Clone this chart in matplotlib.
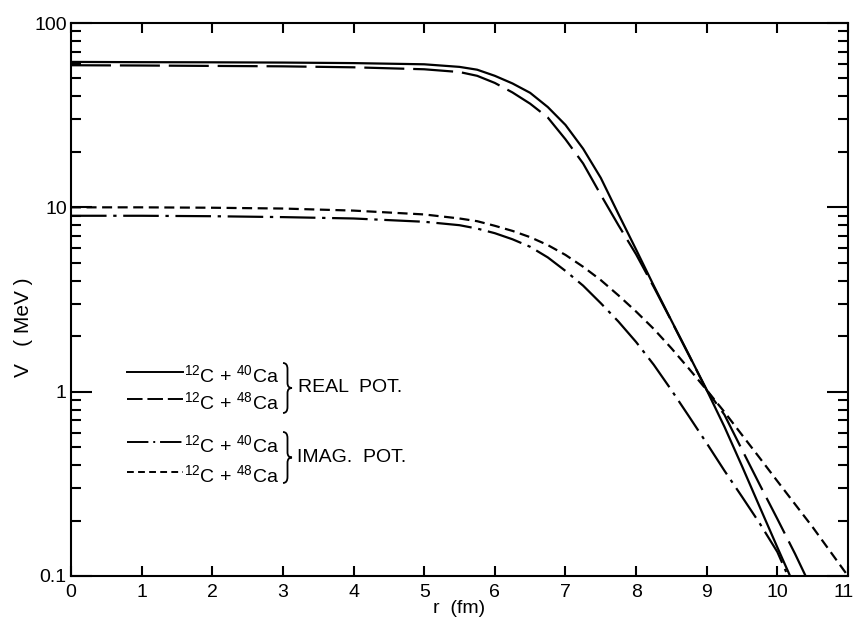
import matplotlib.pyplot as plt
import matplotlib.transforms as mtransforms
from matplotlib.lines import Line2D
from matplotlib.path import Path
from matplotlib.patches import PathPatch
from matplotlib.ticker import LogLocator, NullFormatter

plt.rcParams['font.family'] = ['Liberation Sans', 'DejaVu Sans']
plt.rcParams['mathtext.default'] = 'regular'

# values: r in fm, V in MeV
r_real40 = [0, 1, 2, 3, 4, 5, 5.5, 5.75, 6, 6.25, 6.5, 6.75, 7, 7.25, 7.5, 7.75, 8, 8.25,
            8.5, 8.75, 9, 9.25, 9.5, 9.75, 10, 10.18]
v_real40 = [61.5, 61.3, 61.2, 61.0, 60.6, 59.7, 57.8, 55.8, 51.7, 47.0, 41.8, 35.0, 28.0, 20.8,
            14.45, 9.2, 5.9, 3.76, 2.43, 1.58, 1.02, 0.646, 0.394, 0.237, 0.143, 0.1]

r_real48 = [0, 1, 2, 3, 4, 5, 5.5, 5.75, 6, 6.25, 6.5, 6.75, 7, 7.25, 7.5, 7.75, 8, 8.25,
            8.5, 8.75, 9, 9.25, 9.5, 9.75, 10, 10.25, 10.4]
v_real48 = [59.0, 58.8, 58.5, 58.2, 57.5, 56.1, 54.2, 51.7, 47.3, 42.0, 36.5, 30.7, 23.4, 17.3,
            11.7, 8.0, 5.56, 3.7, 2.42, 1.57, 1.02, 0.75, 0.484, 0.313, 0.204, 0.132, 0.1]

r_imag40 = [0, 1, 2, 3, 4, 5, 5.5, 5.75, 6, 6.25, 6.5, 6.75, 7, 7.25, 7.5, 7.75, 8, 8.25,
            8.5, 8.75, 9, 9.25, 9.5, 9.75, 10, 10.15]
v_imag40 = [9.0, 9.0, 8.95, 8.85, 8.7, 8.35, 8.0, 7.67, 7.24, 6.71, 6.11, 5.35, 4.52, 3.76,
            3.02, 2.40, 1.86, 1.40, 1.02, 0.733, 0.525, 0.373, 0.269, 0.193, 0.135, 0.1]

r_imag48 = [0, 1, 2, 3, 4, 5, 5.5, 5.75, 6, 6.25, 6.5, 6.75, 7, 7.25, 7.5, 7.75, 8, 8.25,
            8.5, 8.75, 9, 9.25, 9.5, 9.75, 10, 10.5, 11]
v_imag48 = [10.0, 10.0, 9.95, 9.85, 9.6, 9.15, 8.7, 8.41, 7.94, 7.45, 6.89, 6.24, 5.52, 4.76,
            4.03, 3.33, 2.72, 2.19, 1.72, 1.33, 1.02, 0.776, 0.582, 0.437, 0.327, 0.184, 0.1]

x_ticks = list(range(12))
y_ticks = [0.1, 1, 10, 100]
y_tick_labels = ['0.1', '1', '10', '100']

W, H = 854, 628


def fx(x):
    return x / W


def fy(y):
    return 1 - y / H


def brace(fig, x0, y0, y1, w):
    # right-facing curly brace, pixel coords (y down)
    xm = x0 + w / 2
    ym = (y0 + y1) / 2
    h = y1 - y0
    pts = [(x0, y0), (xm, y0), (xm, y0 + 0.12 * h),
           (xm, ym - 0.1 * h), (xm, ym), (x0 + w, ym),
           (xm, ym), (xm, ym + 0.1 * h),
           (xm, y1 - 0.12 * h), (xm, y1), (x0, y1)]
    codes = [Path.MOVETO, Path.CURVE3, Path.CURVE3,
             Path.LINETO, Path.CURVE3, Path.CURVE3,
             Path.CURVE3, Path.CURVE3,
             Path.LINETO, Path.CURVE3, Path.CURVE3]
    path = Path([(fx(a), fy(b)) for a, b in pts], codes)
    fig.add_artist(PathPatch(path, fc='none', ec='black', lw=1.3,
                             transform=fig.transFigure))


fig = plt.figure(figsize=(8.54, 6.28), dpi=100)
ax = fig.add_axes([fx(71), fy(576), fx(777), 553 / H])

lw = 1.6
ax.plot(r_real40, v_real40, color='black', lw=lw, ls='-')
ax.plot(r_real48, v_real48, color='black', lw=lw, dashes=(18, 4))
ax.plot(r_imag40, v_imag40, color='black', lw=lw, dashes=(16, 3, 1.5, 3))
ax.plot(r_imag48, v_imag48, color='black', lw=lw, dashes=(4.5, 2.5))

ax.set_yscale('log')
ax.set_xlim(0, 11)
ax.set_ylim(0.1, 100)
ax.set_xticks(x_ticks, [str(t) for t in x_ticks])
ax.set_yticks(y_ticks, y_tick_labels)
ax.yaxis.set_minor_locator(LogLocator(base=10, subs=range(2, 10)))
ax.yaxis.set_minor_formatter(NullFormatter())
ax.tick_params(axis='both', which='both', direction='in', top=True, right=True, width=1.5)
ax.tick_params(axis='x', which='major', length=7, labelsize=14, pad=6)
ax.tick_params(axis='y', which='major', length=15, labelsize=14, pad=3)
ax.tick_params(axis='y', which='minor', length=7)
for s in ax.spines.values():
    s.set_linewidth(1.5)

# keep the "11" inside the canvas
last = ax.get_xticklabels()[-1]
last.set_horizontalalignment('right')
last.set_transform(last.get_transform() + mtransforms.ScaledTranslation(0.06, 0, fig.dpi_scale_trans))

ax.set_xlabel('r  (fm)', fontsize=14)
ax.xaxis.set_label_coords(0.5, -0.043)
ax.set_ylabel('V   ( MeV )', fontsize=15)
ax.yaxis.set_label_coords(-0.049, 0.45)

# hand-drawn style legend
leg_y = [372, 399, 442, 472]
leg_dashes = [None, (8, 2.5), (11, 2.5, 1, 2.5), (3.5, 2.2)]
leg_text = [r'$^{12}$C + $^{40}$Ca', r'$^{12}$C + $^{48}$Ca',
            r'$^{12}$C + $^{40}$Ca', r'$^{12}$C + $^{48}$Ca']
for y, d, t in zip(leg_y, leg_dashes, leg_text):
    ln = Line2D([fx(127), fx(183)], [fy(y), fy(y)], color='black', lw=1.4,
                transform=fig.transFigure)
    if d is not None:
        ln.set_dashes(d)
    fig.add_artist(ln)
    fig.text(fx(184), fy(y + 10), t, fontsize=14, va='baseline', ha='left')

brace(fig, 283, 363, 413, 9)
brace(fig, 283, 432, 483, 9)
fig.text(fx(298), fy(388), 'REAL  POT.', fontsize=14, va='center', ha='left')
fig.text(fx(297), fy(458), 'IMAG.  POT.', fontsize=14, va='center', ha='left')

fig.savefig('out.png', dpi=100)
